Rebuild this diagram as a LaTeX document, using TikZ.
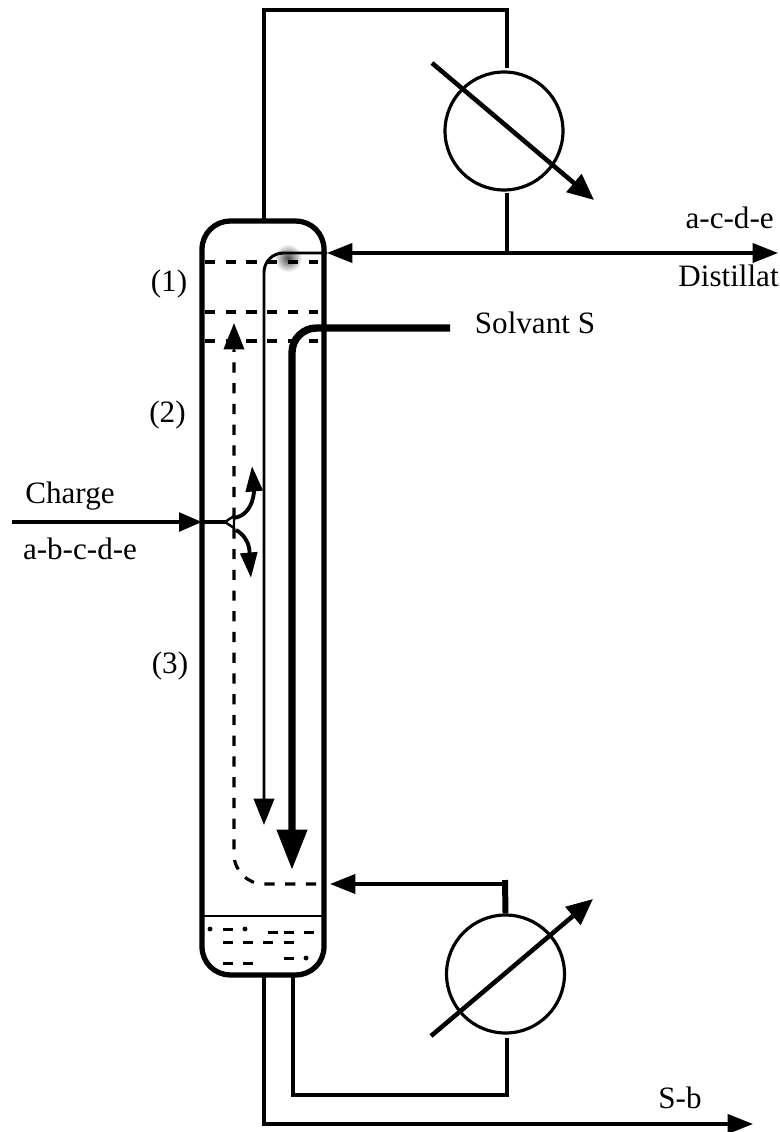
\documentclass[tikz,border=0pt]{standalone}
\usepackage{fontspec}
\setmainfont{Liberation Serif}
\usetikzlibrary{arrows.meta,positioning}
\tikzset{
  pipe/.style={line width=1.8pt},
  flowtip/.style={-{Triangle[length=14.5pt,width=11pt]}},
  tray/.style={line width=1.8pt,dash pattern=on 5.8pt off 6pt},
  spot/.style={line width=1.7pt},
  exchanger/.style={draw, circle, line width=1.8pt, minimum size=2.36cm, inner sep=0pt},
  label/.style={font=\fontsize{17.7pt}{20pt}\selectfont,inner sep=0pt}
}
\begin{document}
\begin{tikzpicture}[x=0.02cm,y=-0.02cm]
    \useasboundingbox (0,0) rectangle (779,1132);
    % Smudge on the top tray
    \shade [inner color=black!70, outer color=white] (288,258) circle (8pt);
    % Column
    \node [draw, line width=3pt, rounded corners=16pt, minimum width=2.44cm, minimum height=15.08cm, inner sep=0pt] (column) at (263,598) {};
    % Exchangers
    \node [exchanger] (condenser) at (504,131) {};
    \node [exchanger] (reboiler) at (505.5,974) {};
    \coordinate (topout) at (264,221);
    \coordinate (condin) at (507,68);
    \coordinate (condout) at (507,193);
    \coordinate (refluxin) at (327,253);
    \coordinate (tee) at (507,253);
    \coordinate (distillat) at (778,253);
    \coordinate (solvantin) at (450,328);
    \coordinate (charge) at (12,522);
    \coordinate (wall) at (202,522);
    \coordinate (split) at (230,522);
    \coordinate (boilin) at (330,884);
    \coordinate (boilknee) at (505,884);
    \coordinate (boiltop) at (505,880);
    \coordinate (boilout) at (507,1038);
    \coordinate (botleft) at (264,975);
    \coordinate (botright) at (293,975);
    \coordinate (sb) at (753,1124);
    % Top loop
    \draw [pipe] (topout) |- (507,10) -- (condin);
    \draw [pipe] (condout) -- (tee);
    \draw [pipe, flowtip] (tee) -- (refluxin);
    \draw [pipe, flowtip] (tee) -- (distillat);
    % Bottom loop
    \draw [line width=3.4pt] (reboiler.north) -- (boiltop);
    \draw [pipe, flowtip] (boilknee) -- (boilin);
    \draw [pipe] (boilout) |- (293,1095) -- (botright);
    \draw [pipe, flowtip] (botleft) |- (sb);
    % Crossing arrows
    \draw [line width=2.6pt, -{Triangle[length=15pt,width=13pt]}] (432,63) -- (594,200);
    \draw [line width=2.6pt, -{Triangle[length=15pt,width=13pt]}] (431,1036) -- (593,899);
    % Trays
    \foreach \y in {262,312,341}
        \draw [tray] (205,\y) -- (318,\y);
    \draw [line width=1.5pt] (203,916) -- (323,916);
    % Liquid in the sump
    \foreach \xa/\ya in {223/929,268/932,284/932,304/932,223/942,243/942,263/942,284/942,284/958,223/963,243/963}
        \draw [line width=1.7pt] (\xa,\ya) -- ++(10,0);
    \foreach \xa/\ya in {210/929,245/929,306/958}
        \fill (\xa,\ya) circle (1.4pt);
    % Flows inside the column
    \draw [spot, rounded corners=11pt, -{Triangle[length=15pt,width=11.5pt]}] (refluxin) -- (264,253) -- (264,825);
    \draw [line width=4.2pt, rounded corners=14pt, -{Triangle[length=23pt,width=16.5pt]}] (solvantin) -- (292,328) -- (292,870);
    \draw [tray, rounded corners=17pt] (316,884) -- (234,884) -- (234,350);
    \draw [spot, -{Triangle[length=15pt,width=11.5pt]}] (234,352) -- (234,323);
    % Feed
    \draw [line width=2.2pt, -{Triangle[length=13pt,width=10.5pt]}] (charge) -- (wall);
    \draw [line width=2pt] (wall) -- (split);
    \draw [line width=2.2pt, -{Triangle[length=14.5pt,width=9.5pt]}] (234,518) to[out=10,in=-85] (252,466);
    \draw [line width=2.2pt, -{Triangle[length=14.5pt,width=9.5pt]}] (236,530) to[out=-30,in=95] (251,578);
    \draw [line width=1.4pt, fill=white] (225,522) -- (234,516) -- (234,528) -- cycle;
    % Labels
    \node [label] (lone) at (169,284) {(1)};
    \node [label] (ltwo) at (167.5,415) {(2)};
    \node [label] (lthree) at (170,666) {(3)};
    \node [label] (lcharge) at (70,496) {Charge};
    \node [label] (lfeed) at (80,549) {a-b-c-d-e};
    \node [label] (lsolvant) at (535,323) {Solvant S};
    \node [label, anchor=east] (ltop) at (774,218) {a-c-d-e};
    \node [label, anchor=east] (ldist) at (779,276) {Distillat};
    \node [label] (lbottom) at (680,1098) {S-b};
\end{tikzpicture}
\end{document}
